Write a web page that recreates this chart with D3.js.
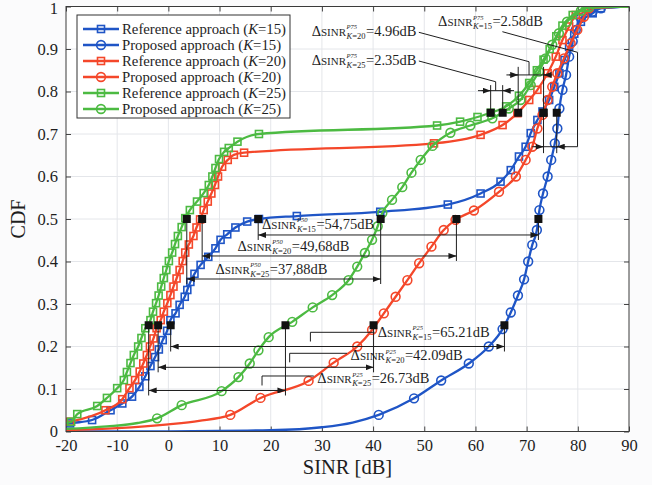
<!DOCTYPE html>
<html lang="en">
<head>
<meta charset="utf-8">
<title>CDF of SINR</title>
<script src="https://d3js.org/d3.v7.min.js"></script>
<style>
  body { margin: 0; background: #fbfbfc; }
  svg text { font-family: "Liberation Serif", "Times New Roman", serif; fill: #1e1e1e; }
</style>
</head>
<body>
<script>
// ---- data ----
var xTickValues = [-20, -10, 0, 10, 20, 30, 40, 50, 60, 70, 80, 90];
var yTickValues = [0, 0.1, 0.2, 0.3, 0.4, 0.5, 0.6, 0.7, 0.8, 0.9, 1];
var yTickLabels = ["0", "0.1", "0.2", "0.3", "0.4", "0.5", "0.6", "0.7", "0.8", "0.9", "1"];

// reference approach, K=15 (blue squares)
var refK15 = [[-19.2,0.019],[-14.9,0.027],[-11.3,0.05],[-9.0,0.066],[-7.1,0.082],[-5.66,0.105],[-4.5,0.13],[-3.5,0.154],[-2.6,0.175],[-1.86,0.193],[-1.1,0.215],[-0.24,0.237],[0.4,0.262],[1.4,0.278],[2.2,0.298],[3.2,0.317],[3.7,0.333],[4.3,0.352],[5.1,0.371],[6.3,0.392],[7.8,0.411],[9.2,0.431],[10.2,0.451],[11.5,0.464],[13.1,0.48],[15.4,0.494],[17.7,0.5],[25.1,0.507],[41.4,0.517],[54.6,0.534],[61,0.56],[64.9,0.588],[66.9,0.615],[68.5,0.647],[69.8,0.67],[70.8,0.702],[72.1,0.733],[73.1,0.753],[74.4,0.78],[75.4,0.811],[76.4,0.843],[77.4,0.874],[78.3,0.905],[79.3,0.936],[80.6,0.964],[82.9,0.984],[84.5,0.996]];
var refK15Unmarked = [[-20,0.017],[90,1]];

// proposed approach, K=15 (blue circles)
var propK15 = [[41.1,0.039],[48,0.078],[53.3,0.12],[58.7,0.16],[62.6,0.2],[65.3,0.241],[66.9,0.28],[68.3,0.32],[69.5,0.358],[70.3,0.4],[71.1,0.439],[72.0,0.474],[72.5,0.521],[73.2,0.56],[74.1,0.6],[74.8,0.639],[75.5,0.678],[76.0,0.713],[76.4,0.76],[77.0,0.804],[77.7,0.839],[78.3,0.882],[79.0,0.918],[79.6,0.945],[80.6,0.973],[82.9,0.988],[84.5,0.996]];
var propK15Unmarked = [[-18,0],[0,0.0005],[20,0.003],[30,0.01],[36,0.021],[90,1]];

// reference approach, K=20 (red squares)
var refK20 = [[-19.2,0.023],[-12.3,0.05],[-9.0,0.076],[-7.6,0.102],[-6.5,0.121],[-5.6,0.141],[-4.9,0.16],[-4.2,0.18],[-3.6,0.2],[-2.9,0.219],[-2.3,0.243],[-1.5,0.262],[-0.9,0.282],[-0.2,0.302],[0.4,0.321],[1.0,0.341],[1.6,0.36],[2.2,0.38],[2.8,0.401],[3.3,0.421],[4.0,0.44],[4.9,0.46],[5.5,0.48],[6.2,0.499],[6.9,0.521],[7.7,0.541],[8.4,0.56],[9.1,0.58],[9.7,0.6],[10.5,0.623],[11.6,0.639],[12.8,0.651],[14.8,0.656],[51.9,0.678],[61,0.698],[65.3,0.721],[68.2,0.749],[70.5,0.78],[72.1,0.804],[74.1,0.843],[75.7,0.882],[77,0.921],[78.3,0.953],[79.6,0.98],[81.9,0.997]];
var refK20Unmarked = [[-20,0.021],[90,1]];

// proposed approach, K=20 (red circles)
var propK20 = [[12.1,0.039],[18.0,0.079],[27.4,0.119],[32.3,0.162],[36.9,0.2],[39.8,0.239],[42.1,0.278],[44.4,0.317],[46.7,0.356],[49.0,0.396],[51.4,0.435],[53.8,0.474],[56.1,0.498],[59.7,0.52],[64.6,0.564],[67.9,0.6],[69.8,0.639],[71.1,0.67],[72.1,0.713],[73.1,0.745],[74.1,0.78],[75,0.811],[76,0.843],[77.3,0.878],[78.6,0.913],[79.9,0.945],[81.2,0.976],[82.2,0.996]];
var propK20Unmarked = [[-20,0.003],[-10,0.008],[0,0.017],[6,0.025],[90,1]];

// reference approach, K=25 (green squares)
var refK25 = [[-19.0,0.023],[-17.8,0.041],[-13.9,0.06],[-12.0,0.079],[-10.0,0.102],[-8.7,0.121],[-8.1,0.14],[-7.4,0.161],[-6.75,0.18],[-5.9,0.2],[-5.26,0.22],[-4.5,0.243],[-3.5,0.262],[-3.0,0.282],[-2.4,0.302],[-1.9,0.32],[-1.4,0.341],[-0.9,0.361],[-0.4,0.38],[0.1,0.401],[0.74,0.421],[1.3,0.441],[1.86,0.46],[2.6,0.481],[3.3,0.502],[4.2,0.521],[5.6,0.541],[6.9,0.561],[7.9,0.58],[8.6,0.6],[9.2,0.62],[9.9,0.641],[10.9,0.658],[11.8,0.667],[13.5,0.682],[17.7,0.7],[52.5,0.72],[57,0.729],[60.4,0.74],[63,0.75],[66,0.765],[68.5,0.79],[70.5,0.82],[72,0.85],[73.3,0.875],[74.5,0.9],[75.8,0.93],[77,0.955],[79,0.98],[81.5,0.997]];
var refK25Unmarked = [[-20,0.02],[90,1]];

// proposed approach, K=25 (green circles)
var propK25 = [[-2.2,0.031],[2.6,0.062],[10.4,0.095],[13.7,0.128],[15.9,0.16],[17.6,0.191],[19.6,0.222],[24.2,0.258],[28.2,0.292],[32,0.321],[35.2,0.356],[36.9,0.388],[38.4,0.42],[39.8,0.451],[40.9,0.483],[41.8,0.514],[43.7,0.545],[45.7,0.575],[47.5,0.609],[49.3,0.639],[51.6,0.672],[55.1,0.703],[59,0.72],[63.3,0.737],[66.5,0.76],[68.8,0.78],[70.8,0.815],[72.4,0.847],[73.7,0.878],[75,0.91],[76.3,0.937],[77.9,0.964],[80.6,0.99],[82.2,0.999]];
var propK25Unmarked = [[-20,0.006],[-12,0.012],[-6,0.02],[90,1]];

// percentile points (x in dB) : [K=15, K=20, K=25]
var p25Ref  = [0.45, -2.0, -3.85];
var p25Prop = [65.66, 40.09, 22.88];
var p50Ref  = [17.55, 6.6, 3.6];
var p50Prop = [72.3, 56.28, 41.48];
var p75Ref  = [73.3, 68.35, 62.97];
var p75Prop = [75.88, 73.31, 65.32];
var p25Labels = ["65.21", "42.09", "26.73"];
var p50Labels = ["54,75", "49,68", "37,88"];
var p75Labels = ["2.58", "4.96", "2.35"];
var kValues = [15, 20, 25];

// ---- chart ----
var w = 652, h = 485;
var margin = {top: 6.5, right: 23, bottom: 53.5, left: 66};

var color = {15: "#1f55c6", 20: "#f4472a", 25: "#4cba42"};

var series = [
  {name: "Reference approach", k: 15, shape: "square", marked: refK15, extra: refK15Unmarked},
  {name: "Proposed approach", k: 15, shape: "circle", marked: propK15, extra: propK15Unmarked},
  {name: "Reference approach", k: 20, shape: "square", marked: refK20, extra: refK20Unmarked},
  {name: "Proposed approach", k: 20, shape: "circle", marked: propK20, extra: propK20Unmarked},
  {name: "Reference approach", k: 25, shape: "square", marked: refK25, extra: refK25Unmarked},
  {name: "Proposed approach", k: 25, shape: "circle", marked: propK25, extra: propK25Unmarked}
];

var x = d3.scaleLinear().domain([-20, 90]).range([margin.left, w - margin.right]);
var y = d3.scaleLinear().domain([0, 1]).range([h - margin.bottom, margin.top]);

var svg = d3.select("body").append("svg").attr("width", w).attr("height", h);

svg.append("defs").append("clipPath").attr("id", "plotclip")
  .append("rect").attr("x", x(-20)).attr("y", y(1)).attr("width", x(90) - x(-20)).attr("height", y(0) - y(1));

var marker = svg.select("defs").append("marker")
  .attr("id", "arr").attr("viewBox", "0 0 8 6").attr("refX", 8).attr("refY", 3)
  .attr("markerWidth", 8).attr("markerHeight", 6).attr("markerUnits", "userSpaceOnUse")
  .attr("orient", "auto-start-reverse");
marker.append("path").attr("d", "M0,0L8,3L0,6z").attr("fill", "#1a1a1a");

// plot background
svg.append("rect").attr("x", x(-20)).attr("y", y(1))
  .attr("width", x(90) - x(-20)).attr("height", y(0) - y(1)).attr("fill", "#fff");

// grid
var grid = svg.append("g").attr("stroke", "#e4e6ea").attr("stroke-width", 1);
grid.selectAll(".gx").data(xTickValues.slice(1, -1)).enter().append("line")
  .attr("x1", d => x(d)).attr("x2", d => x(d)).attr("y1", y(0)).attr("y2", y(1));
grid.selectAll(".gy").data(yTickValues.slice(1, -1)).enter().append("line")
  .attr("y1", d => y(d)).attr("y2", d => y(d)).attr("x1", x(-20)).attr("x2", x(90));

// axes (inward ticks on all sides)
function styleAxis(g) {
  g.select(".domain").remove();
  g.selectAll(".tick line").attr("stroke", "#444");
  g.selectAll(".tick text").attr("font-size", 16.5).attr("fill", "#1e1e1e")
    .attr("font-family", "Liberation Serif, serif");
}
svg.append("g").attr("transform", "translate(0," + y(0) + ")")
  .call(d3.axisBottom(x).tickValues(xTickValues).tickSize(-5).tickPadding(8).tickFormat(d => String(d)))
  .call(styleAxis);
svg.append("g").attr("transform", "translate(0," + y(1) + ")")
  .call(d3.axisTop(x).tickValues(xTickValues).tickSize(-5).tickFormat(""))
  .call(styleAxis);
var yAxisG = svg.append("g").attr("transform", "translate(" + x(-20) + ",0)")
  .call(d3.axisLeft(y).tickValues(yTickValues).tickSize(-5).tickPadding(8).tickFormat((d, i) => yTickLabels[i]))
  .call(styleAxis);
// keep the top label inside the page
yAxisG.selectAll(".tick text").filter(d => d === 1).attr("dy", "0.45em");
svg.append("g").attr("transform", "translate(" + x(90) + ",0)")
  .call(d3.axisRight(y).tickValues(yTickValues).tickSize(-5).tickFormat(""))
  .call(styleAxis);

// curves
var line = d3.line().x(d => x(d[0])).y(d => y(d[1])).curve(d3.curveMonotoneX);
var plot = svg.append("g").attr("clip-path", "url(#plotclip)");

function drawMark(g, shape, cx, cy, col) {
  if (shape === "square") {
    g.append("rect").attr("x", cx - 3.5).attr("y", cy - 3.5).attr("width", 7).attr("height", 7)
      .attr("fill", "none").attr("stroke", col).attr("stroke-width", 1.6);
  } else {
    g.append("circle").attr("cx", cx).attr("cy", cy).attr("r", 4.4)
      .attr("fill", "none").attr("stroke", col).attr("stroke-width", 1.6);
  }
}

series.forEach(function(s) {
  var pts = s.marked.concat(s.extra).sort((a, b) => a[0] - b[0]);
  var g = plot.append("g");
  g.append("path").attr("d", line(pts)).attr("fill", "none")
    .attr("stroke", color[s.k]).attr("stroke-width", 2.3);
  s.marked.forEach(function(p) { drawMark(g, s.shape, x(p[0]), y(p[1]), color[s.k]); });
});

// ---- annotations ----
var ann = svg.append("g").attr("stroke", "#1e1e1e").attr("stroke-width", 1).attr("fill", "none");

function seg(x1, y1, x2, y2) {
  return ann.append("line").attr("x1", x1).attr("y1", y1).attr("x2", x2).attr("y2", y2);
}
function blackSquare(xv, yv) {
  svg.append("rect").attr("x", x(xv) - 4).attr("y", y(yv) - 4)
    .attr("width", 8).attr("height", 8).attr("fill", "#111");
}
function deltaLabel(xv, yv, pct, k, val) {
  var tx = x(xv), ty = y(yv);
  var t1 = svg.append("text").attr("x", tx).attr("y", ty).attr("font-size", 14.5);
  t1.append("tspan").text("\u0394");
  t1.append("tspan").attr("font-size", 11).text("SINR");
  var w1 = t1.node().getComputedTextLength();
  var sup = svg.append("text").attr("x", tx + w1 + 0.5).attr("y", ty - 6.5).attr("font-size", 6.5)
    .attr("font-style", "italic").text("P" + pct);
  var sub = svg.append("text").attr("x", tx + w1 + 0.5).attr("y", ty + 3).attr("font-size", 8.5);
  sub.append("tspan").attr("font-style", "italic").text("K");
  sub.append("tspan").text("=" + k);
  var w2 = Math.max(sup.node().getComputedTextLength(), sub.node().getComputedTextLength());
  svg.append("text").attr("x", tx + w1 + w2 + 1).attr("y", ty).attr("font-size", 14.5).text("=" + val + "dB");
}
// |<---->| arrow between two percentile points
function spanArrow(xa, xb, level, top) {
  seg(x(xa), y(top), x(xa), y(level) + 5);
  seg(x(xb), y(top), x(xb), y(level) + 5);
  seg(x(xa), y(level), x(xb), y(level))
    .attr("marker-start", "url(#arr)").attr("marker-end", "url(#arr)");
}
// ->|  |<- arrow pointing inwards
function pinchArrow(xa, xb, level, left, right) {
  seg(x(left), y(level), x(right), y(level));
  seg(x(xa) - 9, y(level), x(xa), y(level)).attr("marker-end", "url(#arr)");
  seg(x(xb) + 9, y(level), x(xb), y(level)).attr("marker-end", "url(#arr)");
}

// P25
var p25Level = [0.2, 0.151, 0.0965];
var p25Text = [[40.9, 0.223], [35.6, 0.168], [29.1, 0.113]];
var p25Hook = [[27.75, 40.3, 0.2334], [23.7, 34.9, 0.184], [18.3, 28.4, 0.1306]];
kValues.forEach(function(k, i) {
  spanArrow(p25Ref[i], p25Prop[i], p25Level[i], 0.25);
  var hk = p25Hook[i];
  seg(x(hk[0]), y(hk[2]), x(hk[1]), y(hk[2]));
  seg(x(hk[0]), y(hk[2]), x(hk[0]), y(p25Level[i]) - 5);
  deltaLabel(p25Text[i][0], p25Text[i][1], 25, k, p25Labels[i]);
});

// P50
var p50Level = [0.4624, 0.413, 0.3588];
var p50Text = [[18.3, 0.4765], [13.5, 0.4254], [9.2, 0.3706]];
kValues.forEach(function(k, i) {
  spanArrow(p50Ref[i], p50Prop[i], p50Level[i], 0.5);
  deltaLabel(p50Text[i][0], p50Text[i][1], 50, k, p50Labels[i]);
});

// P75
var p75Level = [0.6701, 0.839, 0.802];
var p75Text = [[52.7, 0.954], [28.0, 0.9306], [28.0, 0.8624]];
// K=20
seg(x(p75Ref[1]), y(0.75), x(p75Ref[1]), y(0.858));
seg(x(p75Prop[1]), y(0.75), x(p75Prop[1]), y(0.858));
pinchArrow(p75Ref[1], p75Prop[1], p75Level[1], 66.05, 74.7);
seg(x(48.94), y(0.9393), x(70.47), y(0.8701));
seg(x(70.47), y(0.8701), x(70.47), y(p75Level[1]));
// K=25
seg(x(p75Ref[2]), y(0.75), x(p75Ref[2]), y(0.815));
seg(x(p75Prop[2]), y(0.75), x(p75Prop[2]), y(0.815));
pinchArrow(p75Ref[2], p75Prop[2], p75Level[2], 60.49, 67.54);
seg(x(48.94), y(0.8718), x(63.95), y(0.823));
seg(x(63.95), y(0.823), x(63.95), y(p75Level[2]));
// K=15
seg(x(p75Ref[0]), y(0.75), x(p75Ref[0]), y(0.655));
seg(x(p75Prop[0]), y(0.75), x(p75Prop[0]), y(0.655));
pinchArrow(p75Ref[0], p75Prop[0], p75Level[0], 71.1, 79.94);
seg(x(65.26), y(0.9407), x(79.94), y(0.8922));
seg(x(79.94), y(0.8922), x(79.94), y(p75Level[0]));
kValues.forEach(function(k, i) {
  deltaLabel(p75Text[i][0], p75Text[i][1], 75, k, p75Labels[i]);
});

// black percentile squares
kValues.forEach(function(k, i) {
  blackSquare(p25Ref[i], 0.25); blackSquare(p25Prop[i], 0.25);
  blackSquare(p50Ref[i], 0.5);  blackSquare(p50Prop[i], 0.5);
  blackSquare(p75Ref[i], 0.75); blackSquare(p75Prop[i], 0.75);
});

// plot frame
svg.append("rect").attr("x", x(-20)).attr("y", y(1))
  .attr("width", x(90) - x(-20)).attr("height", y(0) - y(1))
  .attr("fill", "none").attr("stroke", "#3a3a3a").attr("stroke-width", 1);

// axis titles
svg.append("text").attr("x", (x(-20) + x(90)) / 2).attr("y", 474)
  .attr("text-anchor", "middle").attr("font-size", 20.5).text("SINR [dB]");
svg.append("text").attr("transform", "translate(25," + y(0.5) + ") rotate(-90)")
  .attr("text-anchor", "middle").attr("font-size", 20).text("CDF");

// legend
var lg = svg.append("g");
lg.append("rect").attr("x", 77).attr("y", 15).attr("width", 213).attr("height", 103)
  .attr("fill", "#fff").attr("stroke", "#333").attr("stroke-width", 1);
series.forEach(function(s, i) {
  var ly = 29 + i * 16;
  lg.append("line").attr("x1", 83).attr("x2", 119).attr("y1", ly).attr("y2", ly)
    .attr("stroke", color[s.k]).attr("stroke-width", 2.3);
  drawMark(lg, s.shape, 101, ly, color[s.k]);
  var t = lg.append("text").attr("x", 122).attr("y", ly + 5).attr("font-size", 14.75);
  t.append("tspan").text(s.name + " (");
  t.append("tspan").attr("font-style", "italic").text("K");
  t.append("tspan").text("=" + s.k + ")");
});
</script>
</body>
</html>
